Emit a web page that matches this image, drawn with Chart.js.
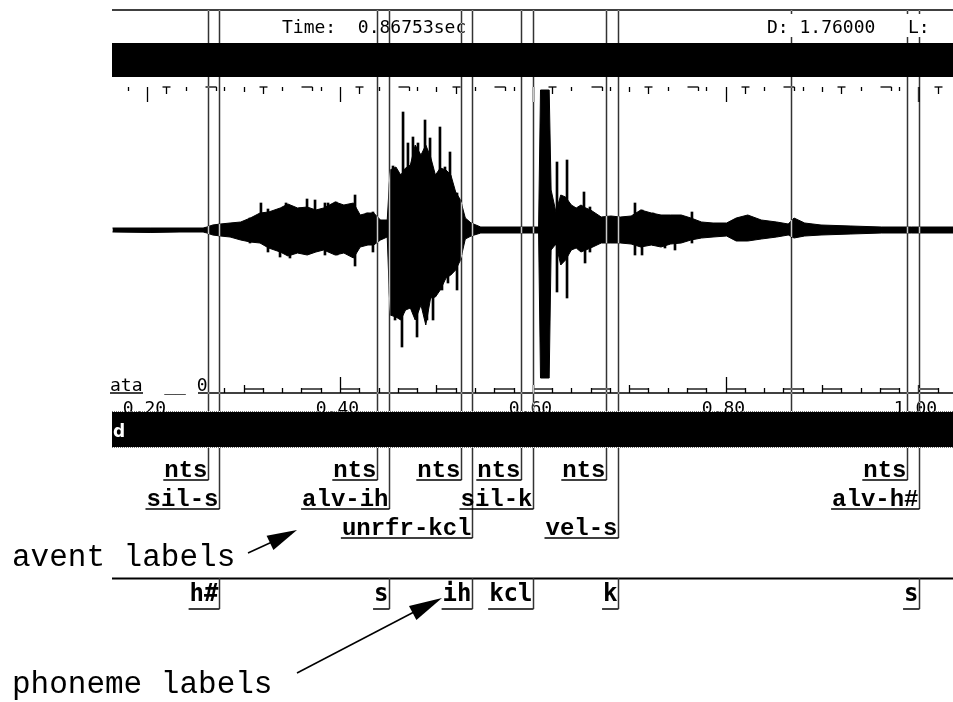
<!DOCTYPE html>
<html>
<head>
<meta charset="utf-8">
<script src="https://cdn.jsdelivr.net/npm/chart.js@4.4.0/dist/chart.umd.min.js"></script>
<style>
html,body{margin:0;padding:0;background:#fff;}
canvas{display:block;}
</style>
</head>
<body>
<canvas id="mycanvas" width="953" height="702"></canvas>
<script>
// waveform envelope (time in s, amplitude in screen units)
var envTime  = [0.164,0.203,0.234,0.258,0.262,0.268,0.276,0.286,0.297,0.307,
                0.317,0.326,0.338,0.346,0.356,0.366,0.375,0.383,0.395,0.404,
                0.414,0.421,0.429,0.435,0.442,0.449,0.452,0.458,0.463,0.468,
                0.473,0.478,0.484,0.489,0.494,0.499,0.504,0.510,0.515,0.520,
                0.525,0.530,0.536,0.546,0.567,0.588,0.606,0.608,0.617,0.619,
                0.624,0.629,0.634,0.640,0.645,0.650,0.655,0.660,0.671,0.681,
                0.691,0.702,0.712,0.723,0.733,0.743,0.754,0.764,0.775,0.787,
                0.801,0.811,0.823,0.837,0.853,0.865,0.871,0.882,0.899,0.930,
                0.962,0.993,1.037];
var envUpper = [2,2,2,2,3,5,6,7,8,12,
                17,18,22,26,22,23,20,22,28,25,
                27,15,17,17,10,10,60,63,55,62,
                65,85,75,85,73,55,62,60,55,38,
                30,12,7,3,3,3,3,140,140,40,
                18,35,33,25,22,25,22,20,13,14,
                13,14,20,17,15,15,15,12,8,7,
                7,12,15,10,8,6,12,7,5,4,
                3,3,3];
var envLower = [-2,-2.5,-2,-2,-3,-5,-6,-7,-10,-12,
                -13,-18,-22,-26,-23,-25,-22,-20,-25,-23,
                -28,-17,-15,-15,-10,-7,-85,-87,-90,-80,
                -78,-90,-75,-95,-68,-67,-60,-48,-45,-40,
                -30,-9,-6,-3,-3,-3,-3,-148,-148,-20,
                -14,-35,-30,-20,-18,-22,-20,-18,-13,-13,
                -13,-14,-17,-15,-17,-14,-13,-10,-8,-7,
                -6,-11,-11,-9,-7,-5,-8,-6,-5,-4,
                -3,-3,-3];

// single strokes sticking out of the envelope
var spikeTime  = [0.3066,0.3180,0.3253,0.3378,0.3440,0.3481,0.3585,0.3658,0.3689,0.3741,
                  0.3844,0.3876,0.3959,0.3969,0.4156,0.4280,0.4342,0.4550,0.4571,0.4643,
                  0.4654,0.4705,0.4726,0.4757,0.4799,0.4809,0.4882,0.4902,0.4934,0.4965,
                  0.5037,0.5058,0.5089,0.5120,0.5141,0.5214,0.6251,0.6355,0.6531,0.6542,
                  0.6593,0.7060,0.7133,0.7247,0.7371,0.7475,0.7651];
var spikeUpper = [12,27,21,18,27,10,22,31,10,30,
                  27,27,28,10,35,17,18,64,30,40,
                  118,87,40,93,40,87,110,40,92,40,
                  103,40,63,30,78,37,68,70,38,15,
                  23,27,20,17,13,13,18];
var spikeLower = [-13,-10,-22,-27,-10,-28,-23,-10,-23,-10,
                  -25,-10,-10,-25,-36,-10,-22,-30,-90,-117,
                  -40,-40,-73,-40,-107,-40,-40,-90,-40,-90,
                  -40,-60,-30,-53,-30,-60,-62,-68,-15,-33,
                  -22,-25,-25,-15,-18,-20,-13];

// avent labels: text, end time, row
var aventText = ['nts','nts','nts','nts','nts','nts','sil-s','alv-ih','sil-k','alv-h#','unrfr-kcl','vel-s'];
var aventEnd  = [0.2631,0.4384,0.5255,0.5878,0.6759,0.9882,0.2745,0.4508,0.6002,1.0006,0.5369,0.6884];
var aventRow  = [0,0,0,0,0,0,1,1,1,1,2,2];

// phoneme labels
var phoneText = ['h#','s','ih','kcl','k','s'];
var phoneEnd  = [0.2745,0.4508,0.5369,0.6002,0.6884,1.0006];

var cursorTime = 0.86753;
var durationText = '1.76000';
var tickValues = [0.2,0.4,0.6,0.8,1.0];
var tickLabels = ['0.20','0.40','0.60','0.80','1.00'];

var rowBase  = [477,506,535];
var rowUnder = [480,509,538];

function line(ctx,x1,y1,x2,y2){ ctx.beginPath(); ctx.moveTo(x1,y1); ctx.lineTo(x2,y2); ctx.stroke(); }

var deco = {
  id: 'deco',
  beforeDraw: function(chart){
    var c = chart.ctx;
    c.save(); c.fillStyle = '#fff'; c.fillRect(0,0,chart.width,chart.height); c.restore();
  },
  afterDraw: function(chart){
    var ctx = chart.ctx, xs = chart.scales.x, a = chart.chartArea;
    var L = a.left, R = a.right;
    function X(t){ return Math.round(xs.getPixelForValue(t)) + 0.5; }
    ctx.save();
    ctx.strokeStyle = '#000'; ctx.fillStyle = '#000';

    // frame line on top
    ctx.lineWidth = 1.5;
    line(ctx, L, 10, R, 10);

    // top ruler
    ctx.lineWidth = 1.3;
    for (var k = 8; k <= 52; k++) {
      var x = X(k*0.02), m = k % 5;
      if (x < L || x > R) continue;
      if (m === 0) line(ctx, x, 87, x, k % 10 === 0 ? 102 : 92);
      else if (m === 1) { line(ctx, x-4, 87, x+4, 87); line(ctx, x, 87, x, 94); }
      else if (m === 3) { line(ctx, x, 87, x+11, 87); line(ctx, x+11, 87, x+11, 91); }
      else line(ctx, x, 87, x, 91);
    }

    // bottom axis
    ctx.lineWidth = 1.3;
    line(ctx, 198, 393, R, 393);
    line(ctx, 110, 393, 143, 393);
    for (k = 10; k <= 52; k++) {
      x = X(k*0.02); m = k % 5;
      if (x < 215 || x > R) continue;
      var h = (k % 20 === 0) ? 16 : (m === 0 ? 8 : 5);
      line(ctx, x, 393, x, 393 - h);
      if (m === 0 || m === 3) line(ctx, x, 389, X(k*0.02 + 0.02), 389);
    }
    ctx.font = '18px "DejaVu Sans Mono"';
    ctx.textAlign = 'left';
    ctx.fillText('ata  __ 0', 110, 391);
    ctx.textAlign = 'center';
    for (var i = 0; i < tickValues.length; i++) ctx.fillText(tickLabels[i], X(tickValues[i]) - 3, 414);

    // time read-out
    ctx.textAlign = 'left';
    ctx.fillText('Time:  ' + cursorTime.toFixed(5) + 'sec', 282, 33);

    // boundary lines (xor-like so they show white inside the waveform)
    ctx.save();
    ctx.globalCompositeOperation = 'difference';
    ctx.strokeStyle = '#cccccc'; ctx.lineWidth = 1.5;
    function vline(t, end){
      var x = X(t);
      line(ctx, x, 10, x, 43);
      line(ctx, x, 77, x, 411);
      if (end > 448) line(ctx, x, 448, x, end);
    }
    for (i = 0; i < aventEnd.length; i++) vline(aventEnd[i], rowUnder[aventRow[i]]);
    vline(cursorTime, 0);
    ctx.restore();

    // duration read-out box
    ctx.fillStyle = '#fff';
    ctx.fillRect(760, 14, R - 760, 23);
    ctx.fillStyle = '#000';
    ctx.fillText('D: ' + durationText + '   L:', 767, 33);

    // black bars
    ctx.fillRect(L, 43, R - L, 34);
    ctx.fillRect(L, 412, R - L, 35);
    ctx.save();
    ctx.strokeStyle = '#777'; ctx.setLineDash([1,1]); ctx.lineWidth = 1;
    line(ctx, L, 411.5, R, 411.5);
    line(ctx, L, 447.5, R, 447.5);
    ctx.restore();
    ctx.fillStyle = '#fff';
    ctx.font = 'bold 17px "DejaVu Sans"';
    ctx.fillText('d', 113, 437);
    ctx.fillStyle = '#000';

    // avent labels
    ctx.font = 'bold 24px "Liberation Mono"';
    ctx.textAlign = 'right';
    ctx.lineWidth = 1.5;
    for (i = 0; i < aventText.length; i++) {
      x = X(aventEnd[i]);
      var r = aventRow[i], w = ctx.measureText(aventText[i]).width;
      ctx.fillText(aventText[i], x - 1, rowBase[r]);
      line(ctx, x - w - 2, rowUnder[r], x, rowUnder[r]);
    }

    // phoneme tier
    ctx.lineWidth = 2;
    line(ctx, L, 578.5, R, 578.5);
    ctx.font = 'bold 24px "DejaVu Sans Mono"';
    ctx.lineWidth = 1.5;
    for (i = 0; i < phoneText.length; i++) {
      x = X(phoneEnd[i]);
      w = ctx.measureText(phoneText[i]).width;
      ctx.fillText(phoneText[i], x - 1, 601);
      line(ctx, x - w - 2, 609, x, 609);
      ctx.save(); ctx.strokeStyle = '#333'; ctx.lineWidth = 1.5;
      line(ctx, x, 578, x, 609);
      ctx.restore();
    }

    // annotations
    ctx.textAlign = 'left';
    ctx.font = '31px "Liberation Mono"';
    ctx.fillText('avent labels', 12, 566);
    ctx.fillText('phoneme labels', 12, 693);
    ctx.lineWidth = 1.5;
    line(ctx, 248, 553, 272, 542);
    ctx.beginPath(); ctx.moveTo(297, 530); ctx.lineTo(273.4, 550); ctx.lineTo(266.6, 535.8); ctx.closePath(); ctx.fill();
    line(ctx, 297, 673, 414, 612);
    ctx.beginPath(); ctx.moveTo(442, 598); ctx.lineTo(416.4, 620); ctx.lineTo(409, 606); ctx.closePath(); ctx.fill();

    ctx.restore();
  }
};

var upperPts = envTime.map(function(t, i){ return {x: t, y: envUpper[i]}; });
var lowerPts = envTime.map(function(t, i){ return {x: t, y: envLower[i]}; });
var spikePts = spikeTime.map(function(t, i){ return {x: t, y: [spikeLower[i], spikeUpper[i]]}; });

var ctx = document.getElementById('mycanvas');
var waveChart = new Chart(ctx, {
  type: 'line',
  data: {
    datasets: [
      { data: upperPts, fill: '+1', backgroundColor: '#000', borderColor: '#000', borderWidth: 1, pointRadius: 0, tension: 0 },
      { data: lowerPts, fill: false, borderColor: '#000', borderWidth: 1, pointRadius: 0, tension: 0 },
      { type: 'bar', data: spikePts, backgroundColor: '#000', barThickness: 2 }
    ]
  },
  options: {
    responsive: false,
    devicePixelRatio: 1,
    animation: false,
    layout: { padding: { left: 112, right: 0, top: 80, bottom: 309 } },
    plugins: { legend: { display: false }, tooltip: { enabled: false } },
    scales: {
      x: { type: 'linear', min: 0.16349, max: 1.03589, offset: false, display: false },
      y: { min: -163, max: 150, display: false }
    }
  },
  plugins: [deco]
});
</script>
</body>
</html>
